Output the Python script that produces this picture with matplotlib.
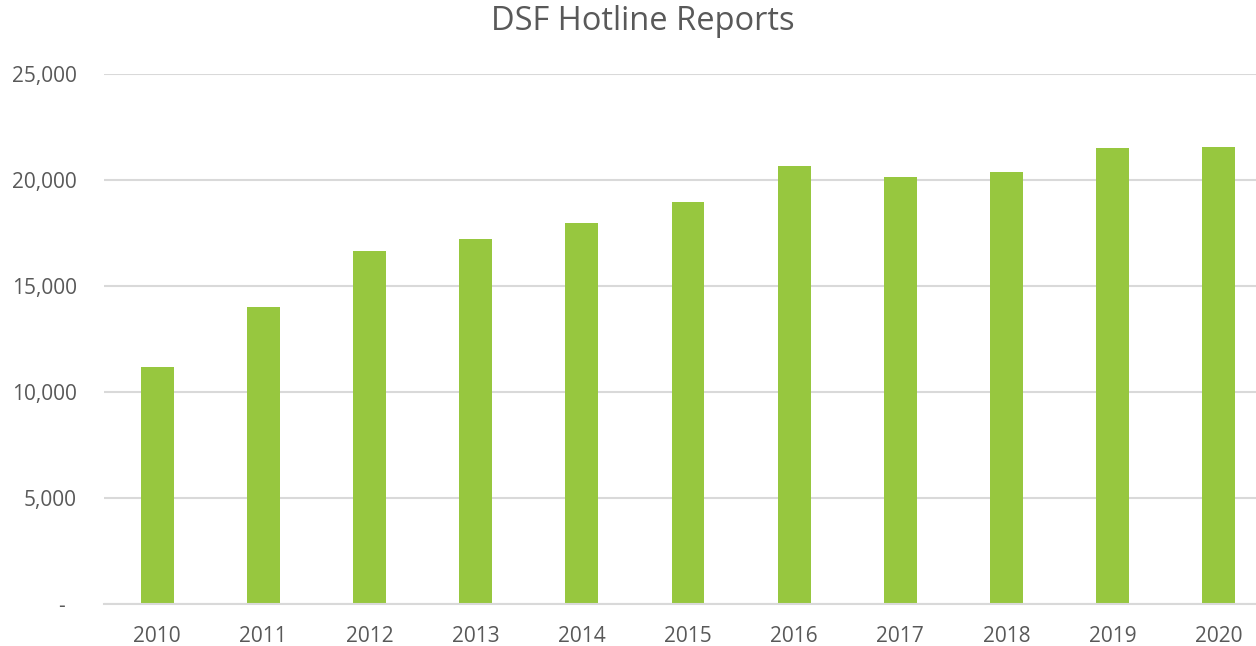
import matplotlib
matplotlib.use("Agg")
import matplotlib.pyplot as plt
from matplotlib.ticker import FuncFormatter

years = ["2010", "2011", "2012", "2013", "2014", "2015", "2016", "2017", "2018", "2019", "2020"]
reports = [11200, 14000, 16650, 17200, 17950, 18950, 20650, 20150, 20400, 21500, 21550]
yticks = [0, 5000, 10000, 15000, 20000, 25000]

plt.rcParams['font.family'] = ['Open Sans', 'DejaVu Sans']
text_color = '#595959'
grid_color = '#d9d9d9'

fig = plt.figure(figsize=(12.56, 6.46), dpi=100)
ax = fig.add_axes([104/1256, 42/646, (1272-104)/1256, 530/646])

x = list(range(len(years)))
ax.bar(x, reports, width=0.31, color='#97c73f', zorder=3)

ax.set_xlim(-0.5, len(years) - 0.5)
ax.set_ylim(0, 25000)
ax.set_yticks(yticks)

def fmt(v, pos):
    if v == 0:
        return "-  "
    return f"{int(v):,}"
ax.yaxis.set_major_formatter(FuncFormatter(fmt))
ax.set_xticks(x)
ax.set_xticklabels(years)

ax.grid(axis='y', color=grid_color, linewidth=1.5, zorder=0)
for s in ['top', 'right', 'left']:
    ax.spines[s].set_visible(False)
ax.spines['bottom'].set_color(grid_color)
ax.spines['bottom'].set_linewidth(1.5)
ax.spines['bottom'].set_zorder(4)
ax.tick_params(axis='both', length=0, labelsize=15, colors=text_color)
ax.tick_params(axis='y', pad=19.5)
ax.tick_params(axis='x', pad=16)

fig.text(643/1256, 1 - 21/646, "DSF Hotline Reports", ha='center', va='center',
         fontsize=23.5, color=text_color)

fig.savefig("out.png", dpi=100)
